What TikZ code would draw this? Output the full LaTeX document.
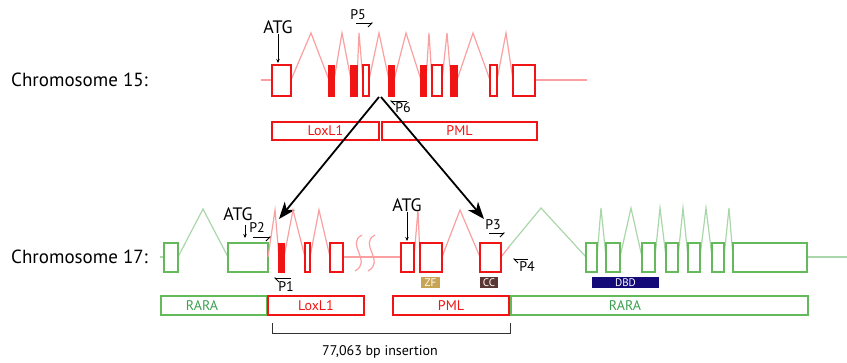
\documentclass[tikz,border=0pt]{standalone}
\usepackage{fontspec}
\setmainfont{PT Sans}
\usetikzlibrary{arrows.meta}

\definecolor{exred}{RGB}{240,20,20}
\definecolor{inred}{RGB}{250,160,160}
\definecolor{exgreen}{RGB}{100,185,90}
\definecolor{ingreen}{RGB}{170,215,170}
\definecolor{txtgreen}{RGB}{60,160,80}
\definecolor{zfgold}{RGB}{200,165,85}
\definecolor{ccbrown}{RGB}{90,55,50}
\definecolor{dbdnavy}{RGB}{20,10,120}

\begin{document}
\begin{tikzpicture}[
            x=1pt, y=-1pt,
            >={Stealth[length=4pt,width=3.5pt]},
            exon/.style={draw=exred, line width=2.7pt, fill=white},
            exonfull/.style={exon, fill=exred},
            gexon/.style={draw=exgreen, line width=2.7pt, fill=white},
            intron/.style={draw=inred, line width=1.2pt, line join=miter},
            gintron/.style={draw=ingreen, line width=1.2pt},
            bar/.style={draw=exred, line width=1.2pt, text=exred},
            gbar/.style={draw=exgreen, line width=1.2pt, text=txtgreen},
            protdom/.style={inner sep=0pt, text=white, font=\fontsize{11}{12}\selectfont},
            primer/.style={line width=0.9pt},
            plabel/.style={font=\fontsize{14}{15}\selectfont, inner sep=0pt},
            atglabel/.style={font=\fontsize{18}{19}\selectfont, inner sep=0pt},
            chrlabel/.style={font=\fontsize{19}{20}\selectfont, inner sep=0pt, anchor=west},
            jump/.style={line width=1.8pt, -{Stealth[length=17pt,width=13pt,inset=5pt]}}
        ]
            \useasboundingbox (0,0) rectangle (847,363);

            % Labels
            \node[chrlabel] (chr15) at (11,80) {Chromosome 15:};
            \node[chrlabel] (chr17) at (11,257) {Chromosome 17:};

            % Chromosome 15 (introns first, exons on top)
            \draw[intron] (261,80) -- (272,80);
            \draw[intron] (535,80) -- (587,80);
            \draw[intron] (291,80) -- (311,33) -- (329,80);
            \draw[intron] (334,80) -- (342,33) -- (351,80);
            \draw[intron] (357,80) -- (359,33) -- (363,80);
            \draw[intron] (369,80) -- (379,33) -- (389,80);
            \draw[intron] (394,80) -- (406,33) -- (421,80);
            \draw[intron] (426,80) -- (429,33) -- (432,80);
            \draw[intron] (442,80) -- (447,33) -- (451,80);
            \draw[intron] (457,80) -- (473,33) -- (490,80);
            \draw[intron] (497,80) -- (506,33) -- (513,80);
            \foreach \l/\r in {272/291, 363/369, 432/442, 490/497, 513/535}
                \draw[exon] (\l,65) rectangle (\r,96);
            \foreach \l/\r in {329/334, 351/357, 389/394, 421/426, 451/457}
                \draw[exonfull] (\l,66) rectangle (\r,96);

            \node[atglabel] (atgA) at (278,27) {ATG};
            \draw[->, line width=0.8pt] (atgA.south) -- (278,63);

            \node[plabel] (pfive) at (358,15) {P5};
            \draw[primer, -{Straight Barb[right,length=4pt]}] (356,23) -- (373,23);
            \node[plabel] (psix) at (403,108) {P6};
            \draw[primer, -{Straight Barb[left,length=4pt]}] (407,101) -- (390,101);

            \node[bar, minimum width=107pt, minimum height=18pt, inner sep=0pt,
                font=\fontsize{14}{15}\selectfont] (lox15) at (325.5,131) {LoxL1};
            \node[bar, minimum width=155pt, minimum height=18pt, inner sep=0pt,
                font=\fontsize{14}{15}\selectfont] (pml15) at (459.5,131) {PML};

            % Insertion arrows
            \coordinate (split) at (380,97);
            \coordinate (insL) at (279,219);
            \coordinate (insR) at (484,219);
            \draw[jump] ([xshift=-1pt]split) -- (insL);
            \draw[jump] ([xshift=1pt]split) -- (insR);

            % Chromosome 17, green part (RARA)
            \draw[gintron] (160,257) -- (164,257);
            \draw[gintron] (807,257) -- (847,257);
            \draw[gintron] (178,257) -- (203,209) -- (228,257);
            \draw[gintron] (508,248) -- (541,208) -- (586,257);
            \draw[intron] (501,257) -- (509,247);
            \foreach \a/\p/\b in {597/601/606, 620/631/642, 655/660/666,
                                  678/683/688, 700/706/712, 724/729/733}
                \draw[gintron] (\a,257) -- (\p,208) -- (\b,257);
            \foreach \l/\r in {164/178, 228/268, 586/597, 606/620, 642/655,
                               666/678, 688/700, 712/724, 733/807}
                \draw[gexon] (\l,243) rectangle (\r,272);

            % Chromosome 17, inserted part
            \draw[intron] (343,257) -- (401,257);
            \draw[intron] (268,257) -- (275,210) -- (279,257);
            \draw[intron] (284,257) -- (293,210) -- (305,257);
            \draw[intron] (310,257) -- (319,210) -- (330,257);
            \draw[intron] (414,257) -- (418,210) -- (420,257);
            \draw[intron] (442,257) -- (460,210) -- (480,257);
            % break marks
            \draw[intron] (362,235) .. controls (345,244) and (373,261) .. (355,271);
            \draw[intron] (375,235) .. controls (358,244) and (386,261) .. (368,271);
            \draw[exonfull] (279,244) rectangle (284,272);
            \foreach \l/\r in {305/310, 330/343, 401/414, 420/442, 480/501}
                \draw[exon] (\l,243) rectangle (\r,272);

            \node[atglabel] (atgB) at (238,214) {ATG};
            \draw[->, line width=0.8pt] (245,225) -- (245,238);
            \node[atglabel] (atgC) at (407,205) {ATG};
            \draw[->, line width=0.8pt] (atgC.south) -- (407,241);

            \node[plabel] (ptwo) at (257,228) {P2};
            \draw[primer, -{Straight Barb[right,length=4pt]}] (253,237) -- (271,237);
            \node[plabel] (pone) at (286,287) {P1};
            \draw[primer, -{Straight Barb[left,length=4pt]}] (291,278) -- (274,278);
            \node[plabel] (pthree) at (493,225) {P3};
            \draw[primer, -{Straight Barb[right,length=4pt]}] (489,233) -- (505,233);
            \node[plabel] (pfour) at (527,267) {P4};
            \draw[primer, -{Straight Barb[left,length=4pt]}] (528,259) -- (513,259);

            % Domains
            \node[protdom, fill=zfgold, minimum width=19pt, minimum height=11pt] (zf) at (430.5,282.5) {ZF};
            \node[protdom, fill=ccbrown, minimum width=18pt, minimum height=11pt] (cc) at (489,282.5) {CC};
            \node[protdom, fill=dbdnavy, minimum width=67pt, minimum height=11pt] (dbd) at (625.5,282.5) {DBD};

            % Transcript bars
            \draw[gbar] (161,296) rectangle (267,315);
            \node[text=txtgreen, font=\fontsize{14}{15}\selectfont] (raraA) at (202,305.5) {RARA};
            \draw[gbar] (511,296) rectangle (808,315);
            \node[text=txtgreen, font=\fontsize{14}{15}\selectfont] (raraB) at (625,305.5) {RARA};
            \node[bar, minimum width=96pt, minimum height=19pt, inner sep=0pt,
                font=\fontsize{14}{15}\selectfont] (lox17) at (316,305.5) {LoxL1};
            \node[bar, minimum width=116pt, minimum height=19pt, inner sep=0pt,
                font=\fontsize{14}{15}\selectfont] (pml17) at (451,305.5) {PML};

            % Insertion bracket
            \draw[line width=0.9pt, draw=black!80] (272,323) -- (272,333) -- (510,333) -- (510,323);
            \node[font=\fontsize{14}{15}\selectfont] (span) at (380,352) {77,063 bp insertion};

        \end{tikzpicture}
\end{document}
